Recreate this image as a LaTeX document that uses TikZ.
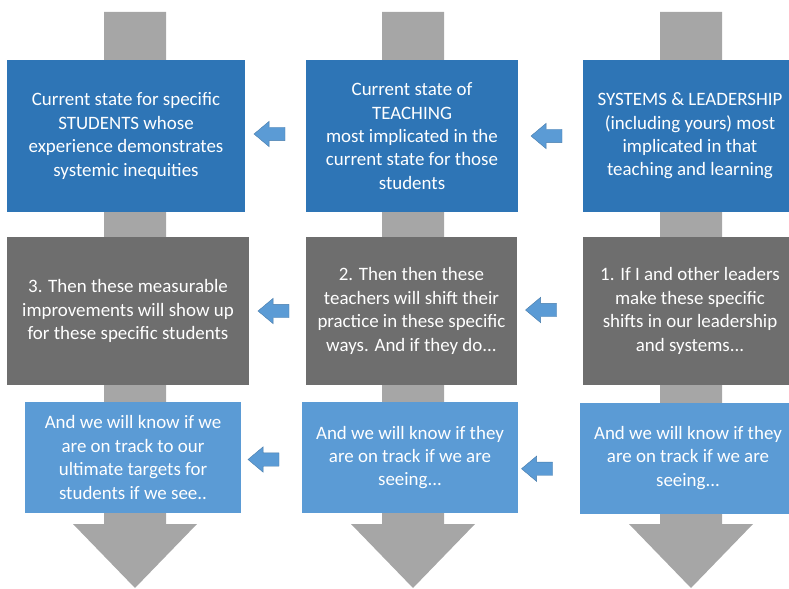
\documentclass[tikz,border=0pt]{standalone}
\usepackage{fontspec}
\setmainfont{Carlito}
\usetikzlibrary{shapes.arrows,calc}
\definecolor{deepblue}{HTML}{2E75B6}
\definecolor{slate}{HTML}{6E6E6E}
\definecolor{skyblue}{HTML}{5B9BD5}
\definecolor{flowgray}{HTML}{A6A6A6}

\begin{document}
\begin{tikzpicture}[x=1bp,y=-1bp,
  box/.style={text=white,align=center,inner sep=0pt,
              font=\fontsize{19}{23.5}\selectfont},
  topbox/.style={box,fill=deepblue,minimum height=152bp},
  midbox/.style={box,fill=slate,minimum height=148bp},
  lowbox/.style={box,fill=skyblue,minimum height=111bp},
  back/.style={single arrow,shape border rotate=180,fill=skyblue,
               draw=skyblue!80!black,line width=0.4bp,
               inner xsep=0pt,inner ysep=6.5bp,
               minimum height=31bp,
               single arrow head extend=6bp,single arrow tip angle=80}
]
  \clip (0,0) rectangle (789,589);

  % the three downward flows behind the boxes
  \foreach \cx in {135,413,691}
    \fill[flowgray] ({\cx-31},12) -- ({\cx+31},12) -- ({\cx+31},524)
      -- ({\cx+62},524) -- (\cx,588) -- ({\cx-62},524) -- ({\cx-31},524) -- cycle;

  % current state
  \node[topbox,minimum width=238bp] (stud)  at (126,136)
    {Current state for specific\\ STUDENTS whose\\ experience demonstrates\\ systemic inequities};
  \node[topbox,minimum width=212bp] (teach) at (412,136)
    {Current state of\\ TEACHING\\ most implicated in the\\ current state for those\\ students};
  \node[topbox,minimum width=214bp] (lead)  at (690,136)
    {SYSTEMS \& LEADERSHIP\\ (including yours) most\\ implicated in that\\ teaching and learning};

  % theory of action
  \node[midbox,minimum width=242bp] (gain)  at (128,311)
    {3. Then these measurable\\ improvements will show up\\ for these specific students};
  \node[midbox,minimum width=211bp] (shift) at (411.5,311)
    {2. Then then these\\ teachers will shift their\\ practice in these specific\\ ways. And if they do...};
  \node[midbox,minimum width=214bp] (lever) at (690,311)
    {1. If I and other leaders\\ make these specific\\ shifts in our leadership\\ and systems...};

  % evidence
  \node[lowbox,minimum width=216bp] (targ)  at (133,457.5)
    {And we will know if we\\ are on track to our\\ ultimate targets for\\ students if we see..};
  \node[lowbox,minimum width=216bp] (tsign) at (410,457.5)
    {And we will know if they\\ are on track if we are\\ seeing...};
  \node[lowbox,minimum width=216bp] (lsign) at (688,458)
    {And we will know if they\\ are on track if we are\\ seeing...};

  % leftward links
  \node[back] (b1) at ($(stud.east)!0.5!(teach.west)+(-2,-2)$) {};
  \node[back] (b2) at ($(teach.east)!0.5!(lead.west)$) {};
  \node[back] (b3) at ($(gain.east)!0.5!(shift.west)$) {};
  \node[back] (b4) at ($(shift.east)!0.5!(lever.west)+(-5,-1)$) {};
  \node[back] (b5) at ($(targ.east)!0.5!(tsign.west)+(-4,2)$) {};
  \node[back] (b6) at ($(tsign.east)!0.5!(lsign.west)+(-8,11)$) {};
\end{tikzpicture}
\end{document}
